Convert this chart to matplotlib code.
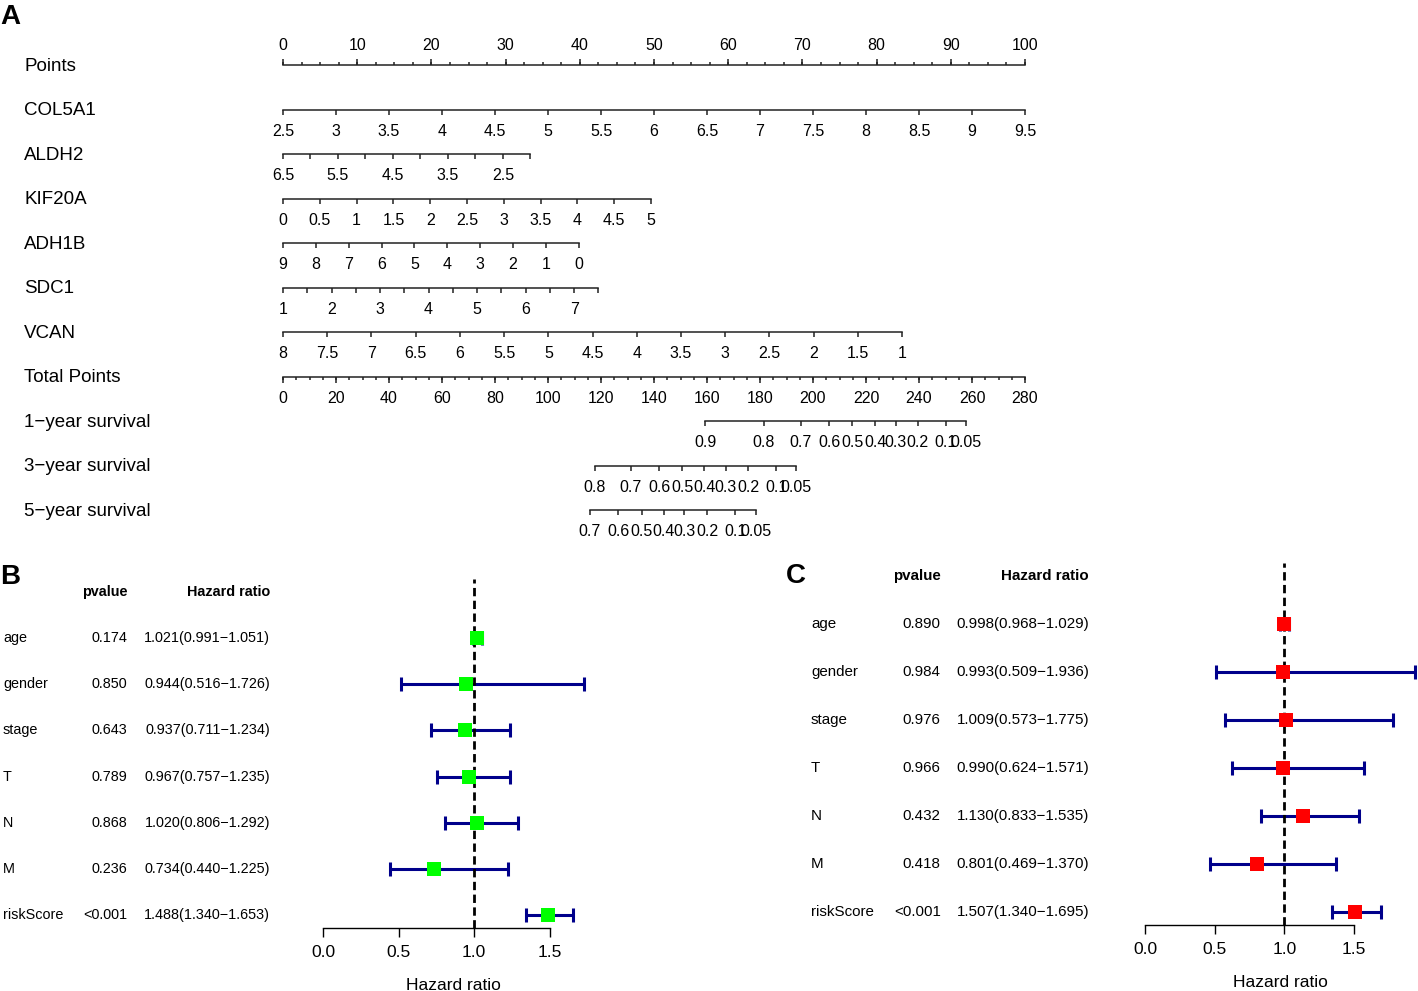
import numpy as np
import matplotlib.pyplot as plt
from matplotlib.transforms import blended_transform_factory

plt.rcParams['font.family'] = ['Liberation Sans', 'DejaVu Sans']

W, H = 1418, 991
MINUS = '\u2212'

# ---------------- Nomogram data (panel A) ----------------
row_names = ['Points', 'COL5A1', 'ALDH2', 'KIF20A', 'ADH1B', 'SDC1', 'VCAN',
             'Total Points', '1' + MINUS + 'year survival',
             '3' + MINUS + 'year survival', '5' + MINUS + 'year survival']

# predictor scales: value giving 0 points and points per unit
col5a1_zero, col5a1_slope = 2.5, 14.286
col5a1_ticks = [2.5, 3, 3.5, 4, 4.5, 5, 5.5, 6, 6.5, 7, 7.5, 8, 8.5, 9, 9.5]
col5a1_labels = col5a1_ticks

aldh2_zero, aldh2_slope = 6.5, -7.41
aldh2_ticks = [6.5, 6, 5.5, 5, 4.5, 4, 3.5, 3, 2.5, 2.0]
aldh2_labels = [6.5, 5.5, 4.5, 3.5, 2.5]

kif20a_zero, kif20a_slope = 0, 9.92
kif20a_ticks = [0, 0.5, 1, 1.5, 2, 2.5, 3, 3.5, 4, 4.5, 5]
kif20a_labels = kif20a_ticks

adh1b_zero, adh1b_slope = 9, -4.43
adh1b_ticks = [9, 8, 7, 6, 5, 4, 3, 2, 1, 0]
adh1b_labels = adh1b_ticks

sdc1_zero, sdc1_slope = 1, 6.54
sdc1_ticks = [1, 1.5, 2, 2.5, 3, 3.5, 4, 4.5, 5, 5.5, 6, 6.5, 7, 7.5]
sdc1_labels = [1, 2, 3, 4, 5, 6, 7]

vcan_zero, vcan_slope = 8, -11.92
vcan_ticks = [8, 7.5, 7, 6.5, 6, 5.5, 5, 4.5, 4, 3.5, 3, 2.5, 2, 1.5, 1]
vcan_labels = vcan_ticks

points_max = 100
total_max = 280

surv1_labels = ['0.9', '0.8', '0.7', '0.6', '0.5', '0.4', '0.3', '0.2', '0.1', '0.05']
surv1_total = [159.4, 181.4, 195.3, 206.1, 214.9, 223.5, 231.2, 239.5, 250.1, 257.8]
surv3_labels = ['0.8', '0.7', '0.6', '0.5', '0.4', '0.3', '0.2', '0.1', '0.05']
surv3_total = [117.6, 131.2, 142.0, 150.7, 158.9, 167.1, 175.6, 186.2, 193.7]
surv5_labels = ['0.7', '0.6', '0.5', '0.4', '0.3', '0.2', '0.1', '0.05']
surv5_total = [115.8, 126.5, 135.3, 143.6, 151.5, 160.0, 170.6, 178.4]

# ---------------- Forest data (panels B, C) ----------------
variables = ['age', 'gender', 'stage', 'T', 'N', 'M', 'riskScore']

uni_p = ['0.174', '0.850', '0.643', '0.789', '0.868', '0.236', '<0.001']
uni_hr = [1.021, 0.944, 0.937, 0.967, 1.020, 0.734, 1.488]
uni_low = [0.991, 0.516, 0.711, 0.757, 0.806, 0.440, 1.340]
uni_high = [1.051, 1.726, 1.234, 1.235, 1.292, 1.225, 1.653]

multi_p = ['0.890', '0.984', '0.976', '0.966', '0.432', '0.418', '<0.001']
multi_hr = [0.998, 0.993, 1.009, 0.990, 1.130, 0.801, 1.507]
multi_low = [0.968, 0.509, 0.573, 0.624, 0.833, 0.469, 1.340]
multi_high = [1.029, 1.936, 1.775, 1.571, 1.535, 1.370, 1.695]


def fmt(v):
    return f'{v:g}'


def px_axes(fig, left, top, right, bottom):
    return fig.add_axes([left / W, 1 - bottom / H, (right - left) / W, (bottom - top) / H])


fig = plt.figure(figsize=(W / 100, H / 100), dpi=100)

# ---------------- Panel A ----------------
ROW0_PX, ROW_PX = 65, 44.5
TOP_PX, BOT_PX = 35, 545
ax = px_axes(fig, 283, TOP_PX, 1025, BOT_PX)
ax.set_xlim(0, points_max)
ax.set_ylim((BOT_PX - ROW0_PX) / ROW_PX, (TOP_PX - ROW0_PX) / ROW_PX)
ax.axis('off')
ax2 = ax.twiny()
ax2.set_xlim(0, total_max)
ax2.axis('off')

line_kw = dict(color='#222222', lw=1.1, clip_on=False)
tick_fs = 11.5


def draw_scale(a, row, xs, label_xs, label_txt, tick_px=5, up=False,
               minor_xs=None, minor_px=None):
    allx = xs + (minor_xs or [])
    a.plot([min(allx), max(allx)], [row, row], **line_kw)
    sign = -1 if up else 1
    a.vlines(xs, row, row + sign * tick_px / ROW_PX, **line_kw)
    if minor_xs:
        a.vlines(minor_xs, row, row + sign * minor_px / ROW_PX, **line_kw)
    off = 14 if up else -15.5
    for x, t in zip(label_xs, label_txt):
        a.annotate(t, (x, row), xytext=(0, off),
                   textcoords='offset points', ha='center', va='center',
                   fontsize=tick_fs)


# Points
pts_major = list(np.arange(0, points_max + 1, 10))
pts_minor = list(np.arange(0, points_max + 0.1, 2.5))
draw_scale(ax, 0, pts_major, pts_major, [fmt(v) for v in pts_major],
           tick_px=6.5, up=True, minor_xs=pts_minor, minor_px=3)

predictors = [
    (col5a1_zero, col5a1_slope, col5a1_ticks, col5a1_labels),
    (aldh2_zero, aldh2_slope, aldh2_ticks, aldh2_labels),
    (kif20a_zero, kif20a_slope, kif20a_ticks, kif20a_labels),
    (adh1b_zero, adh1b_slope, adh1b_ticks, adh1b_labels),
    (sdc1_zero, sdc1_slope, sdc1_ticks, sdc1_labels),
    (vcan_zero, vcan_slope, vcan_ticks, vcan_labels),
]
for i, (zero, slope, ticks, labels) in enumerate(predictors, start=1):
    tx = [(v - zero) * slope for v in ticks]
    lx = [(v - zero) * slope for v in labels]
    draw_scale(ax, i, tx, lx, [fmt(v) for v in labels])

# Total points
tot_major = list(np.arange(0, total_max + 1, 20))
tot_minor = list(np.arange(0, total_max + 1, 5))
draw_scale(ax2, 7, tot_major, tot_major, [fmt(v) for v in tot_major],
           tick_px=6.5, minor_xs=tot_minor, minor_px=3)

for row, tp, lab in [(8, surv1_total, surv1_labels),
                     (9, surv3_total, surv3_labels),
                     (10, surv5_total, surv5_labels)]:
    draw_scale(ax2, row, tp, tp, lab)

tr = blended_transform_factory(fig.transFigure, ax.transData)
for i, name in enumerate(row_names):
    ax.annotate(name, (24 / W, i), xycoords=tr, xytext=(0, -1),
                textcoords='offset points', ha='left', va='center', fontsize=13.5)

fig.text(0, 1 - 17 / H, 'A', fontsize=20, fontweight='bold', ha='left', va='center')


# ---------------- Panels B and C ----------------
def forest(txt_px, plot_px, names, pvals, hr, low, high, box_color, fs):
    n = len(names)
    ys = np.arange(n, 0, -1)
    ylim = (0.72, n + 1.28)

    at = px_axes(fig, *txt_px)
    at.set_xlim(0, 3)
    at.set_ylim(*ylim)
    at.axis('off')
    for y, name, p, h, lo, hi in zip(ys, names, pvals, hr, low, high):
        at.text(0, y, name, ha='left', va='center', fontsize=fs)
        at.text(1.4, y, p, ha='right', va='center', fontsize=fs)
        at.text(3, y, f'{h:.3f}({lo:.3f}{MINUS}{hi:.3f})', ha='right',
                va='center', fontsize=fs)
    at.text(1.4, n + 1, 'pvalue', ha='right', va='center', fontsize=fs,
            fontweight='bold')
    at.text(3, n + 1, 'Hazard ratio', ha='right', va='center', fontsize=fs,
            fontweight='bold')

    af = px_axes(fig, *plot_px)
    af.set_xlim(0, max(high))
    af.set_ylim(*ylim)
    af.hlines(ys, low, high, color='#00008B', lw=2.2, zorder=2, clip_on=False)
    af.plot(low, ys, '|', color='#00008B', ms=10, mew=2.2, zorder=2, clip_on=False)
    af.plot(high, ys, '|', color='#00008B', ms=10, mew=2.2, zorder=2, clip_on=False)
    af.axvline(1, color='black', ls=(0, (3, 1.6)), lw=2, zorder=3)
    af.plot(hr, ys, 's', color=box_color, ms=9.5, mew=0, zorder=4, clip_on=False)

    for s in ['top', 'right', 'left']:
        af.spines[s].set_visible(False)
    af.spines['bottom'].set_bounds(0, 1.5)
    af.spines['bottom'].set_linewidth(1)
    af.set_yticks([])
    af.set_xticks([0, 0.5, 1.0, 1.5])
    af.set_xticklabels(['0.0', '0.5', '1.0', '1.5'])
    af.tick_params(axis='x', length=6.5, width=1, labelsize=12.5, pad=5.5)
    af.set_xlabel('Hazard ratio', fontsize=12.5, labelpad=13)
    af.patch.set_visible(False)


forest((3, 579, 270, 928), (323, 579, 584, 928), variables, uni_p,
       uni_hr, uni_low, uni_high, '#00FF00', 10.4)
fig.text(0, 1 - 577 / H, 'B', fontsize=20, fontweight='bold', ha='left', va='center')

forest((811, 563, 1089, 925), (1145, 563, 1415, 925), variables, multi_p,
       multi_hr, multi_low, multi_high, '#FF0000', 10.9)
fig.text(786 / W, 1 - 576 / H, 'C', fontsize=20, fontweight='bold', ha='left', va='center')

fig.savefig('out.png', dpi=100)
